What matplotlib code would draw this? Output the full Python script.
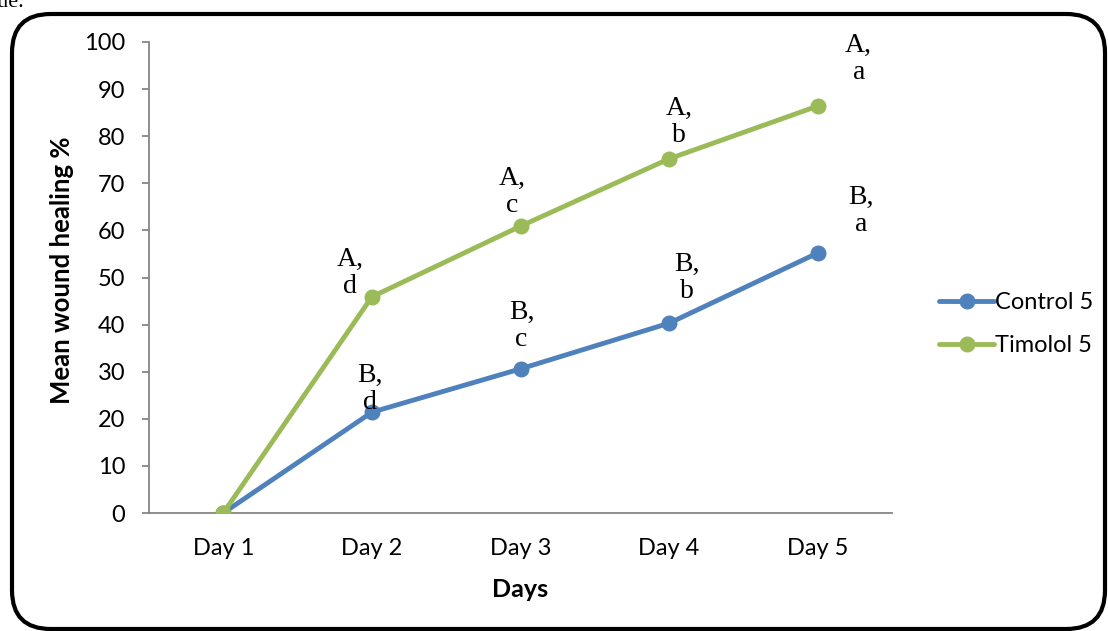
import matplotlib
matplotlib.use("Agg")
import matplotlib.pyplot as plt
from matplotlib.patches import FancyBboxPatch

days = ["Day 1", "Day 2", "Day 3", "Day 4", "Day 5"]
control = [0, 21.4, 30.6, 40.3, 55.2]
timolol = [0, 45.9, 60.9, 75.2, 86.4]
control_letters = ["", "B,\nd", "B,\nc", "B,\nb", "B,\na"]
timolol_letters = ["", "A,\nd", "A,\nc", "A,\nb", "A,\na"]
yticks = [0, 10, 20, 30, 40, 50, 60, 70, 80, 90, 100]

BLUE = "#4F81BD"
GREEN = "#9BBB59"
AXIS_GREY = "#868686"
SANS = ["Lato", "DejaVu Sans"]
SERIF = ["Liberation Serif", "DejaVu Serif"]

W, H = 1108, 631
fig = plt.figure(figsize=(W / 100, H / 100), dpi=100)
ax = fig.add_axes([149 / W, 1 - 513 / H, (892 - 149) / W, (513 - 42) / H])

x = list(range(len(days)))
ax.plot(x, control, color=BLUE, lw=3.5, marker="o", ms=10.5, label="Control 5",
        solid_capstyle="round", zorder=3)
ax.plot(x, timolol, color=GREEN, lw=3.5, marker="o", ms=10.5, label="Timolol 5",
        solid_capstyle="round", zorder=4)

# letter annotations (offsets in pixels from each point)
tim_off = [None, (-22, 24), (-8, 34), (10, 37), (41, 47)]
ctl_off = [None, (-2, 23), (1, 43), (18, 45), (43, 42)]
for i in x:
    if timolol_letters[i]:
        ax.annotate(timolol_letters[i], (i, timolol[i]), xytext=tim_off[i],
                    textcoords="offset pixels", ha="center", va="center",
                    fontsize=20, family=SERIF, linespacing=1.1, zorder=5)
    if control_letters[i]:
        ax.annotate(control_letters[i], (i, control[i]), xytext=ctl_off[i],
                    textcoords="offset pixels", ha="center", va="center",
                    fontsize=20, family=SERIF, linespacing=1.1, zorder=5)

ax.set_xlim(-0.5, len(days) - 0.5)
ax.set_ylim(0, 100)
ax.set_yticks(yticks)
ax.set_xticks(x)
ax.set_xticklabels(days)
for s in ("top", "right"):
    ax.spines[s].set_visible(False)
for s in ("left", "bottom"):
    ax.spines[s].set_color(AXIS_GREY)
    ax.spines[s].set_linewidth(1.3)
ax.tick_params(axis="y", direction="out", length=5, width=1.3, color=AXIS_GREY,
               pad=12, labelsize=17)
ax.tick_params(axis="x", length=0, pad=18, labelsize=17)
for lab in ax.get_xticklabels() + ax.get_yticklabels():
    lab.set_family(SANS)

ax.set_xlabel("Days", fontsize=18, fontweight="bold", family=SANS, labelpad=14)
fig.text(62 / W, 1 - 270 / H, "Mean wound healing %", rotation=90, ha="center",
         va="center", fontsize=18.5, fontweight="bold", family=SANS)

leg = ax.legend(loc="center left", bbox_to_anchor=(930 / W, 1 - 324 / H),
                bbox_transform=fig.transFigure, frameon=False,
                prop={"family": SANS, "size": 17}, handlelength=2.3,
                handletextpad=0.05, labelspacing=0.95, borderaxespad=0)

# rounded frame around the chart
frame = FancyBboxPatch((12 / W, 2 / H), (1105 - 12) / W, (617 - 2) / H,
                       boxstyle="round,pad=0,rounding_size=0.035",
                       transform=fig.transFigure, fill=False, ec="black",
                       lw=3, mutation_aspect=W / H)
fig.patches.append(frame)

# clipped caption fragment above the frame
fig.text(24 / W, 1 - 7 / H, "value.", ha="right", va="baseline", fontsize=16,
         family=SERIF)

fig.savefig("out.png", dpi=100)
